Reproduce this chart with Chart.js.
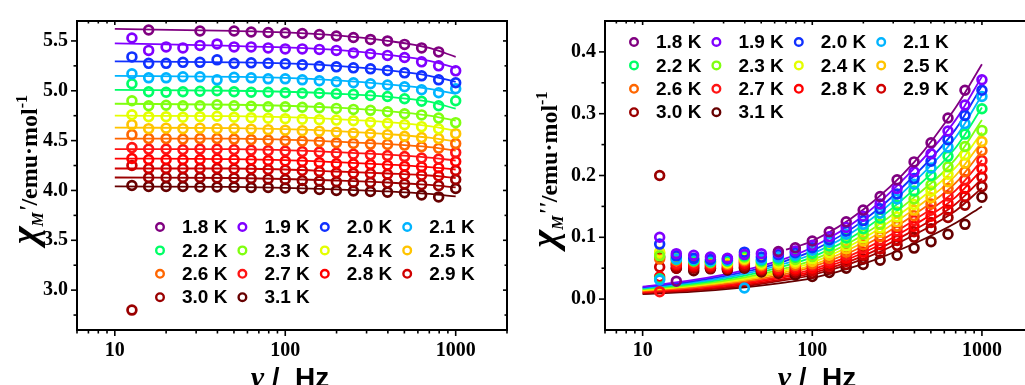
<!DOCTYPE html>
<html>
<head>
<meta charset="utf-8">
<script src="https://cdn.jsdelivr.net/npm/chart.js@4.4.1/dist/chart.umd.min.js"></script>
<style>
  html, body { margin: 0; padding: 0; background: #fff; }
  body { width: 1025px; height: 385px; overflow: hidden; position: relative; }
  .panel { position: absolute; top: 0; }
  #leftBox { left: 0; width: 520px; height: 385px; }
  #rightBox { left: 520px; width: 530px; height: 385px; }
</style>
</head>
<body>
<div class="panel" id="leftBox"><canvas id="chiReal" width="520" height="385"></canvas></div>
<div class="panel" id="rightBox"><canvas id="chiImag" width="530" height="385"></canvas></div>
<script>
// === Data ===
const freqs = [12.6, 15.8, 20.0, 25.1, 31.6, 39.8, 50.1, 63.1, 79.4, 100, 125.9, 158.5, 199.5, 251.2, 316.2, 398.1, 501.2, 631.0, 794.3, 1000];
const temps = ['1.8 K', '1.9 K', '2.0 K', '2.1 K', '2.2 K', '2.3 K', '2.4 K', '2.5 K', '2.6 K', '2.7 K', '2.8 K', '2.9 K', '3.0 K', '3.1 K'];
const tempColors = ['#800080', '#8000ff', '#1030ff', '#00b4ff', '#00ff66', '#80ff10', '#e4ff00', '#ffc400', '#ff6600', '#ff1414', '#ff0000', '#d00000', '#9a0000', '#660000'];

// chi' (emu/mol), one row per temperature
const chiReal = [
  [null, 5.61, null, null, 5.60, null, 5.60, 5.59, 5.585, 5.58, 5.575, 5.565, 5.55, 5.535, 5.515, 5.50, 5.465, 5.43, 5.39, null],
  [5.53, 5.405, 5.44, 5.43, 5.455, 5.47, 5.44, 5.44, 5.43, 5.42, 5.42, 5.415, 5.405, 5.38, 5.37, 5.355, 5.334, 5.29, 5.25, 5.20],
  [5.34, 5.275, 5.275, 5.285, 5.285, 5.31, 5.275, 5.28, 5.275, 5.27, 5.26, 5.245, 5.24, 5.23, 5.22, 5.204, 5.18, 5.15, 5.11, 5.08],
  [5.17, 5.13, 5.13, 5.14, 5.14, 5.11, 5.135, 5.13, 5.12, 5.12, 5.11, 5.10, 5.09, 5.08, 5.07, 5.058, 5.04, 5.01, 4.98, 5.02],
  [5.07, 4.99, 4.985, 4.99, 4.995, 5.00, 4.99, 4.985, 4.985, 4.98, 4.975, 4.975, 4.97, 4.965, 4.953, 4.943, 4.92, 4.895, 4.85, 4.90],
  [4.90, 4.85, 4.855, 4.85, 4.85, 4.86, 4.85, 4.845, 4.84, 4.84, 4.835, 4.83, 4.823, 4.813, 4.804, 4.79, 4.77, 4.758, 4.726, 4.68],
  [4.76, 4.74, 4.74, 4.735, 4.74, 4.745, 4.735, 4.73, 4.725, 4.72, 4.715, 4.71, 4.706, 4.70, 4.683, 4.673, 4.66, 4.64, 4.618, null],
  [4.66, 4.62, 4.625, 4.62, 4.625, 4.62, 4.62, 4.615, 4.61, 4.605, 4.60, 4.595, 4.585, 4.575, 4.569, 4.56, 4.543, 4.53, 4.52, 4.57],
  [4.56, 4.52, 4.52, 4.515, 4.52, 4.52, 4.515, 4.51, 4.505, 4.50, 4.495, 4.49, 4.478, 4.472, 4.465, 4.462, 4.455, 4.438, 4.423, 4.47],
  [4.43, 4.415, 4.415, 4.41, 4.415, 4.415, 4.41, 4.405, 4.40, 4.395, 4.39, 4.385, 4.374, 4.364, 4.357, 4.35, 4.34, 4.325, 4.315, 4.38],
  [4.32, 4.31, 4.31, 4.31, 4.31, 4.315, 4.31, 4.305, 4.30, 4.295, 4.29, 4.28, 4.27, 4.267, 4.26, 4.253, 4.243, 4.237, 4.227, 4.29],
  [4.25, 4.22, 4.22, 4.22, 4.22, 4.22, 4.215, 4.215, 4.21, 4.205, 4.20, 4.19, 4.178, 4.172, 4.169, 4.162, 4.155, 4.152, 4.145, 4.20],
  [2.80, 4.13, 4.13, 4.13, 4.13, 4.125, 4.125, 4.12, 4.115, 4.11, 4.10, 4.095, 4.087, 4.081, 4.081, 4.074, 4.064, 4.058, 4.048, 4.11],
  [4.05, 4.04, 4.04, 4.04, 4.035, 4.035, 4.035, 4.03, 4.03, 4.025, 4.02, 4.01, 4.00, 3.995, 3.99, 3.983, 3.977, 3.955, 3.935, 4.02]
];

// fitted chi' curves
const fitFreqReal = [10, 50, 100, 200, 400, 700, 1000];
const chiRealFit = [
  [5.62, 5.60, 5.585, 5.555, 5.50, 5.43, 5.34],
  [5.475, 5.45, 5.435, 5.41, 5.36, 5.30, 5.23],
  [5.295, 5.285, 5.275, 5.25, 5.205, 5.15, 5.09],
  [5.15, 5.14, 5.13, 5.105, 5.065, 5.02, 4.97],
  [5.01, 5.00, 4.99, 4.97, 4.94, 4.89, 4.82],
  [4.87, 4.86, 4.85, 4.83, 4.795, 4.75, 4.70],
  [4.75, 4.745, 4.735, 4.715, 4.685, 4.645, 4.60],
  [4.63, 4.625, 4.615, 4.595, 4.565, 4.53, 4.49],
  [4.52, 4.52, 4.51, 4.49, 4.465, 4.435, 4.40],
  [4.415, 4.415, 4.405, 4.385, 4.36, 4.33, 4.30],
  [4.32, 4.315, 4.305, 4.285, 4.26, 4.235, 4.21],
  [4.22, 4.22, 4.21, 4.19, 4.17, 4.15, 4.125],
  [4.13, 4.125, 4.115, 4.10, 4.08, 4.055, 4.03],
  [4.04, 4.035, 4.025, 4.01, 3.99, 3.965, 3.94]
];

// chi'' (emu/mol)
const chiImag = [
  [null, 0.029, null, null, null, null, null, 0.077, 0.083, 0.094, 0.109, 0.125, 0.144, 0.166, 0.193, 0.222, 0.253, 0.293, 0.338, null],
  [0.100, 0.0735, 0.071, 0.068, 0.066, 0.072, 0.0735, 0.075, 0.078, 0.087, 0.101, 0.116, 0.134, 0.154, 0.179, 0.206, 0.235, 0.272, 0.314, 0.355],
  [0.089, 0.070, 0.066, 0.064, 0.065, 0.076, 0.068, 0.072, 0.075, 0.083, 0.096, 0.110, 0.127, 0.146, 0.170, 0.195, 0.223, 0.258, 0.297, 0.338],
  [0.031, 0.065, 0.064, 0.062, 0.063, 0.018, 0.064, 0.068, 0.071, 0.079, 0.092, 0.105, 0.121, 0.139, 0.162, 0.186, 0.212, 0.246, 0.284, 0.328],
  [0.033, 0.064, 0.062, 0.060, 0.062, 0.070, 0.062, 0.065, 0.068, 0.074, 0.086, 0.099, 0.114, 0.131, 0.152, 0.175, 0.200, 0.231, 0.267, 0.308],
  [0.070, 0.066, 0.062, 0.060, 0.061, 0.068, 0.060, 0.062, 0.064, 0.069, 0.080, 0.091, 0.105, 0.121, 0.141, 0.162, 0.185, 0.214, 0.247, 0.273],
  [0.076, 0.068, 0.063, 0.061, 0.059, 0.066, 0.058, 0.059, 0.061, 0.065, 0.075, 0.086, 0.099, 0.115, 0.133, 0.153, 0.175, 0.202, 0.233, null],
  [0.074, 0.067, 0.063, 0.060, 0.058, 0.064, 0.056, 0.056, 0.058, 0.061, 0.071, 0.081, 0.094, 0.108, 0.125, 0.144, 0.164, 0.190, 0.220, 0.255],
  [0.065, 0.062, 0.060, 0.058, 0.056, 0.062, 0.054, 0.053, 0.055, 0.057, 0.066, 0.076, 0.088, 0.101, 0.118, 0.135, 0.154, 0.179, 0.206, 0.240],
  [0.012, 0.058, 0.057, 0.056, 0.054, 0.060, 0.052, 0.050, 0.052, 0.054, 0.062, 0.071, 0.082, 0.095, 0.110, 0.127, 0.144, 0.167, 0.193, 0.224],
  [0.036, 0.056, 0.055, 0.054, 0.052, 0.058, 0.050, 0.048, 0.049, 0.050, 0.058, 0.066, 0.076, 0.088, 0.102, 0.118, 0.134, 0.155, 0.179, 0.211],
  [0.052, 0.054, 0.052, 0.052, 0.050, 0.055, 0.048, 0.046, 0.046, 0.046, 0.053, 0.061, 0.071, 0.081, 0.095, 0.109, 0.124, 0.144, 0.166, 0.197],
  [0.200, 0.050, 0.050, 0.050, 0.049, 0.052, 0.046, 0.044, 0.043, 0.042, 0.049, 0.056, 0.065, 0.075, 0.087, 0.100, 0.114, 0.132, 0.152, 0.182],
  [0.068, 0.050, 0.046, 0.049, 0.047, 0.050, 0.044, 0.042, 0.039, 0.0365, 0.043, 0.050, 0.056, 0.063, 0.071, 0.0825, 0.093, 0.105, 0.121, 0.165]
];

// fitted chi'' curves
const fitFreqImag = [10, 20, 40, 70, 100, 200, 400, 700, 1000];
const chiImagFit = [
  [null, null, null, 0.080, 0.094, 0.145, 0.222, 0.310, 0.380],
  [0.020, 0.031, 0.047, 0.066, 0.084, 0.135, 0.212, 0.290, 0.360],
  [0.019, 0.029, 0.044, 0.062, 0.078, 0.127, 0.200, 0.275, 0.345],
  [0.018, 0.027, 0.041, 0.058, 0.073, 0.120, 0.190, 0.262, 0.330],
  [0.017, 0.025, 0.038, 0.054, 0.068, 0.112, 0.178, 0.245, 0.310],
  [0.016, 0.023, 0.035, 0.050, 0.063, 0.104, 0.165, 0.227, 0.290],
  [0.015, 0.022, 0.033, 0.047, 0.059, 0.098, 0.155, 0.213, 0.270],
  [0.014, 0.021, 0.031, 0.044, 0.055, 0.092, 0.146, 0.200, 0.255],
  [0.013, 0.019, 0.029, 0.041, 0.052, 0.086, 0.137, 0.188, 0.240],
  [0.012, 0.018, 0.027, 0.038, 0.048, 0.080, 0.128, 0.176, 0.225],
  [0.011, 0.017, 0.025, 0.036, 0.045, 0.075, 0.120, 0.165, 0.210],
  [0.010, 0.015, 0.023, 0.033, 0.042, 0.070, 0.112, 0.154, 0.195],
  [0.009, 0.014, 0.021, 0.031, 0.039, 0.065, 0.104, 0.143, 0.180],
  [0.008, 0.012, 0.019, 0.027, 0.034, 0.057, 0.090, 0.123, 0.150]
];

// === Ticks ===
const xMajorTicks = [10, 100, 1000];
const xMinorTicks = [6, 7, 8, 9, 20, 30, 40, 50, 60, 70, 80, 90, 200, 300, 400, 500, 600, 700, 800, 900, 2000];
const yTicksReal = [3.0, 3.5, 4.0, 4.5, 5.0, 5.5];
const yMinorReal = [2.75, 3.25, 3.75, 4.25, 4.75, 5.25];
const yTicksImag = [0.0, 0.1, 0.2, 0.3, 0.4];
const yMinorImag = [0.05, 0.15, 0.25, 0.35];

const SERIF = '"Liberation Serif", "Times New Roman", serif';
const SANS = '"Liberation Sans", Arial, sans-serif';

function toPoints(xs, ys) {
  return xs.map((x, i) => ({ x: x, y: ys[i] })).filter(p => p.y !== null);
}

function buildDatasets(xs, rows, fitXs, fitRows) {
  const sets = [];
  rows.forEach((row, i) => {
    sets.push({
      label: temps[i],
      data: toPoints(xs, row),
      showLine: false,
      borderColor: tempColors[i],
      backgroundColor: 'transparent',
      pointRadius: 4.4,
      pointBorderWidth: 2.7,
      pointBackgroundColor: 'transparent',
      pointBorderColor: tempColors[i],
      isMarker: true
    });
  });
  fitRows.forEach((row, i) => {
    sets.push({
      label: temps[i] + ' fit',
      data: toPoints(fitXs, row),
      borderColor: tempColors[i],
      borderWidth: 1.8,
      pointRadius: 0,
      fill: false,
      cubicInterpolationMode: 'monotone'
    });
  });
  return sets;
}

// frame with ticks on all four sides
function framePlugin(yMajor, yMinor) {
  return {
    id: 'frame',
    afterDatasetsDraw(chart) {
      const ctx = chart.ctx;
      const a = chart.chartArea;
      const sx = chart.scales.x, sy = chart.scales.y;
      const line = (x1, y1, x2, y2) => { ctx.beginPath(); ctx.moveTo(x1, y1); ctx.lineTo(x2, y2); ctx.stroke(); };
      ctx.save();
      ctx.strokeStyle = '#000';
      ctx.lineWidth = 1.6;
      xMajorTicks.forEach(v => {
        const px = sx.getPixelForValue(v);
        line(px, a.bottom, px, a.bottom + 6);
        line(px, a.top, px, a.top + 4);
      });
      xMinorTicks.forEach(v => {
        const px = sx.getPixelForValue(v);
        if (px < a.left || px > a.right) return;
        line(px, a.bottom, px, a.bottom + 3.5);
        line(px, a.top, px, a.top + 2.5);
      });
      yMajor.forEach(v => {
        const py = sy.getPixelForValue(v);
        line(a.left - 6, py, a.left, py);
        line(a.right, py, a.right - 4, py);
      });
      yMinor.forEach(v => {
        const py = sy.getPixelForValue(v);
        line(a.left - 3.5, py, a.left, py);
        line(a.right, py, a.right - 2.5, py);
      });
      ctx.lineWidth = 2;
      ctx.strokeRect(a.left, a.top, a.right - a.left, a.bottom - a.top);
      ctx.restore();
    }
  };
}

// 4-column legend drawn from the marker datasets
function legendPlugin(x0, y0, dx, dy) {
  return {
    id: 'gridLegend',
    afterDraw(chart) {
      const ctx = chart.ctx;
      ctx.save();
      ctx.font = 'bold 19px ' + SANS;
      ctx.textBaseline = 'middle';
      ctx.fillStyle = '#000';
      chart.data.datasets.filter(d => d.isMarker).forEach((d, i) => {
        const cx = x0 + (i % 4) * dx;
        const cy = y0 + Math.floor(i / 4) * dy;
        ctx.beginPath();
        ctx.strokeStyle = d.pointBorderColor;
        ctx.lineWidth = 2.4;
        ctx.arc(cx, cy, 3.8, 0, Math.PI * 2);
        ctx.stroke();
        ctx.fillText(d.label, cx + 22, cy + 1);
      });
      ctx.restore();
    }
  };
}

// axis titles with sub/superscripts
function titlePlugin(primes) {
  return {
    id: 'axisTitles',
    afterDraw(chart) {
      const ctx = chart.ctx;
      const a = chart.chartArea;
      const parts = [
        { t: '\u03C7', f: 'italic bold 38px ' + SERIF, dy: 0 },
        { t: 'M', f: 'italic bold 16px ' + SERIF, dy: 6 },
        { t: primes, f: 'italic bold 24px ' + SERIF, dy: -2 },
        { t: '/emu\u00B7mol', f: 'bold 24px ' + SERIF, dy: 0 },
        { t: '-1', f: 'bold 16px ' + SERIF, dy: -10 }
      ];
      ctx.save();
      ctx.fillStyle = '#000';
      let total = 0;
      parts.forEach(p => { ctx.font = p.f; p.w = ctx.measureText(p.t).width; total += p.w; });
      ctx.translate(37, (a.top + a.bottom) / 2 - 6);
      ctx.rotate(-Math.PI / 2);
      let x = -total / 2;
      ctx.textBaseline = 'alphabetic';
      parts.forEach(p => { ctx.font = p.f; ctx.fillText(p.t, x, p.dy); x += p.w; });
      ctx.restore();

      // x title
      ctx.save();
      ctx.fillStyle = '#000';
      ctx.textBaseline = 'alphabetic';
      ctx.font = 'italic bold 30px ' + SERIF;
      const nu = '\u03BD';
      const w1 = ctx.measureText(nu).width;
      ctx.font = 'bold 28px ' + SANS;
      const rest = ' /  Hz';
      const w2 = ctx.measureText(rest).width;
      const cx = (a.left + a.right) / 2 - 2;
      const x0 = cx - (w1 + w2) / 2;
      ctx.font = 'italic bold 30px ' + SERIF;
      ctx.fillText(nu, x0, 387);
      ctx.font = 'bold 28px ' + SANS;
      ctx.fillText(rest, x0 + w1, 387);
      ctx.restore();
    }
  };
}

function makeChart(id, rows, fitXs, fitRows, yMin, yMax, yTicks, yMinor, layout, legendPos, primes) {
  return new Chart(document.getElementById(id), {
    type: 'line',
    data: { datasets: buildDatasets(freqs, rows, fitXs, fitRows) },
    options: {
      responsive: false,
      animation: false,
      devicePixelRatio: 1,
      layout: { padding: { left: 0, top: layout.top, right: layout.right, bottom: 0 } },
      plugins: { legend: { display: false }, tooltip: { enabled: false } },
      scales: {
        x: {
          type: 'logarithmic',
          min: 6,
          max: 2000,
          grid: { display: false, drawTicks: false },
          border: { display: false },
          afterBuildTicks: s => { s.ticks = xMajorTicks.map(v => ({ value: v })); },
          afterFit: s => { s.height = 55; },
          ticks: {
            autoSkip: false,
            maxRotation: 0,
            padding: 9,
            color: '#000',
            font: { family: SERIF, weight: 'bold', size: 20 },
            callback: v => String(v)
          }
        },
        y: {
          min: yMin,
          max: yMax,
          grid: { display: false, drawTicks: false },
          border: { display: false },
          afterBuildTicks: s => { s.ticks = yTicks.map(v => ({ value: v })); },
          afterFit: s => { s.width = layout.yWidth; },
          ticks: {
            padding: 9,
            color: '#000',
            font: { family: SERIF, weight: 'bold', size: 20 },
            callback: v => Number(v).toFixed(1)
          }
        }
      }
    },
    plugins: [framePlugin(yTicks, yMinor), legendPlugin(legendPos[0], legendPos[1], 82.4, 23.4), titlePlugin(primes)]
  });
}

makeChart('chiReal', chiReal, fitFreqReal, chiRealFit, 2.6, 5.7, yTicksReal, yMinorReal,
  { top: 13, right: 13, yWidth: 77 }, [160, 227], "'");
makeChart('chiImag', chiImag, fitFreqImag, chiImagFit, -0.05, 0.45, yTicksImag, yMinorImag,
  { top: 15, right: 17, yWidth: 85 }, [114, 42], "''");
</script>
</body>
</html>
